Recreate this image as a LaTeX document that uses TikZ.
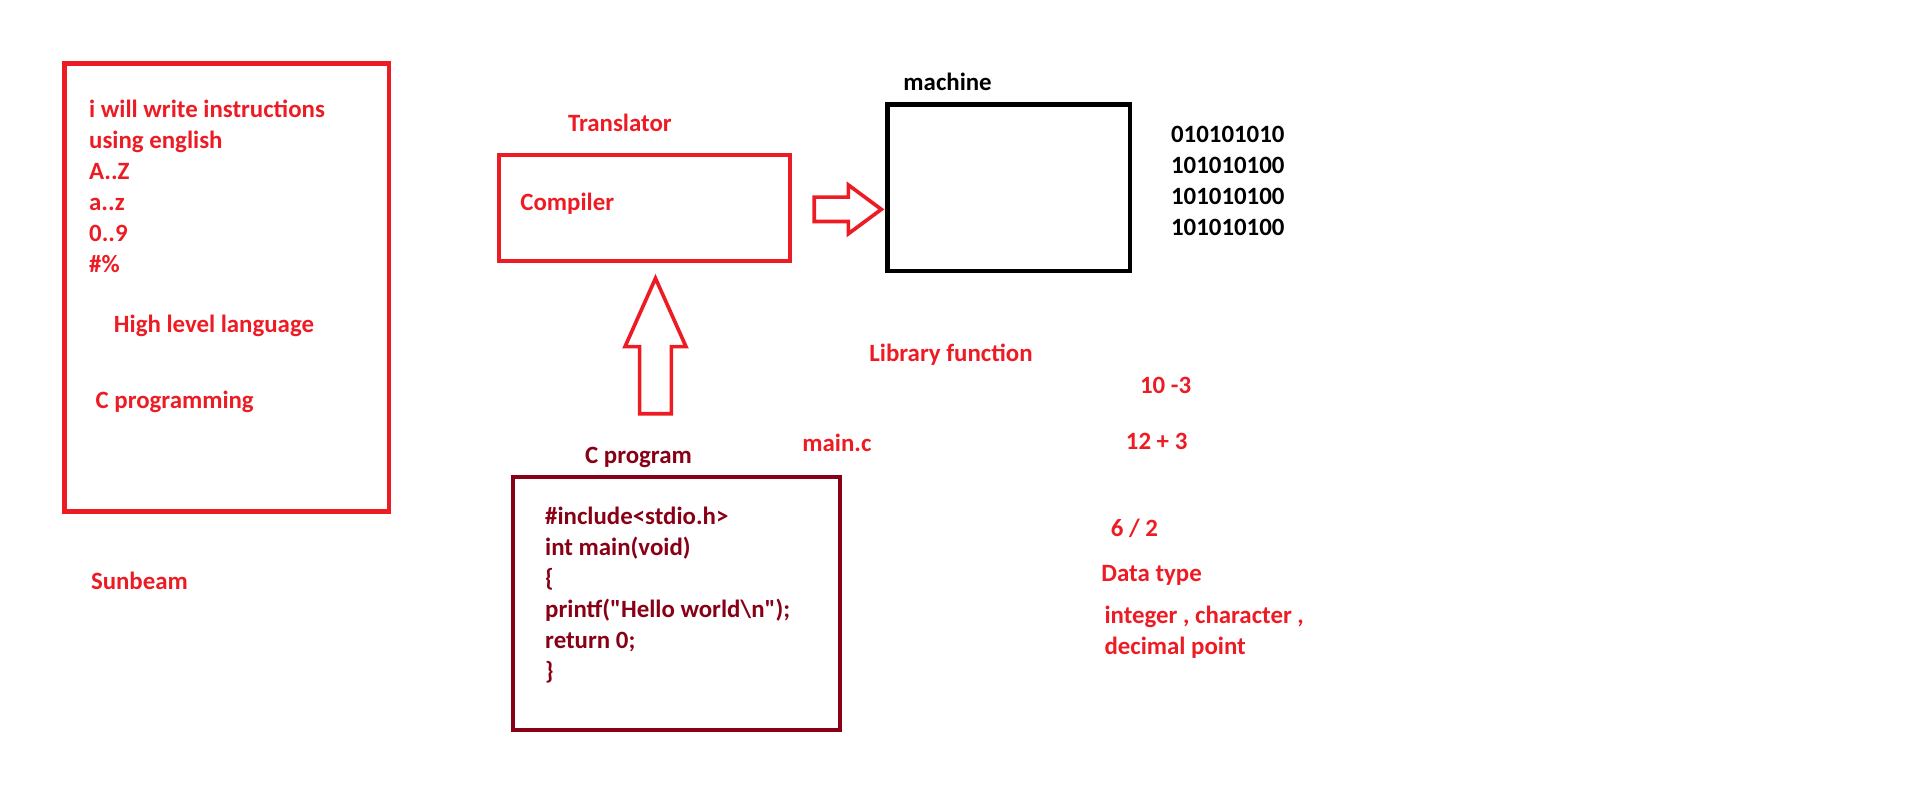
\documentclass[tikz,border=0pt]{standalone}
\usepackage{fontspec}
\setmainfont{Carlito}
\newfontfamily\codefont{Carlito}[Ligatures=TeXOff]
\definecolor{red}{HTML}{ED1C24}
\definecolor{darkred}{HTML}{880015}

\begin{document}
\begin{tikzpicture}[x=0.02cm,y=-0.02cm]
		\tikzstyle{every node}=[font=\bfseries\fontsize{11.6}{14.45}\selectfont, inner sep=0pt, anchor=base west, align=left]
		\tikzstyle{box}=[draw, line width=2pt, anchor=center]
		\tikzstyle{blockarrow}=[draw=red, line width=1.7pt, line join=miter]

		\useasboundingbox (0,0) rectangle (1568,662.7);

		% boxes
		\node (hllbox) at (185.6,235.5) [box, color=red, minimum width=5.316cm, minimum height=7.34cm] {};
		\node (compiler) at (527.85,170.5) [box, color=red, minimum width=4.766cm, minimum height=1.74cm] {};
		\node (machine) at (826.5,153.75) [box, color=black, minimum width=3.98cm, minimum height=2.73cm] {};
		\node (cprog) at (554,494.5) [box, color=darkred, minimum width=5.36cm, minimum height=4.14cm] {};

		% left box (multi-line nodes sit on their last baseline)
		\node (alphabet) at (72.7,223) [color=red] {i will write instructions\\using english\\A..Z\\a..z\\0..9\\\#\%};
		\node (hll) at (93,272.5) [color=red] {High level language};
		\node (cprogramming) at (78,334.5) [color=red] {C programming};
		\node (sunbeam) at (74.2,482.8) [color=red] {Sunbeam};

		% translator
		\node (translator) at (465,108) [color=red] {Translator};
		\node (compilerlabel) at (426,172.5) [color=red] {Compiler};
		\node (machinelabel) at (739.8,74.3) {machine};
		\node (binary) at (959,193.3) {010101010\\101010100\\101010100\\101010100};

		% program
		\node (cproglabel) at (479,379.6) [color=darkred] {C program};
		\node (mainc) at (657,370) [color=red] {main.c};
		\node (code) at (446.3,557) [color=darkred, font=\codefont\bfseries\fontsize{11.6}{14.45}\selectfont] {\#include<stdio.h>\\int main(void)\\\{\\printf("Hello world\textbackslash n");\\return 0;\\\}};

		% right side
		\node (library) at (711.9,296) [color=red] {Library function};
		\node (sub) at (933.6,322) [color=red] {10 -3};
		\node (add) at (922,368) [color=red] {12 + 3};
		\node (div) at (909.7,439.6) [color=red] {6 / 2};
		\node (datatype) at (902,476.5) [color=red] {Data type};
		\node (types) at (904.5,536.5) [color=red] {integer , character ,\\decimal point};

		% block arrows
		\coordinate (righttip) at (722,171.5);
		\draw [blockarrow] (righttip) -- ++(-27,-20) -- ++(0,10) -- ++(-28,0) -- ++(0,20) -- ++(28,0) -- ++(0,10) -- cycle;
		\coordinate (uptip) at (537,228);
		\draw [blockarrow] (uptip) -- ++(25,56) -- ++(-12,0) -- ++(0,55) -- ++(-26,0) -- ++(0,-55) -- ++(-12,0) -- cycle;
	\end{tikzpicture}
\end{document}
